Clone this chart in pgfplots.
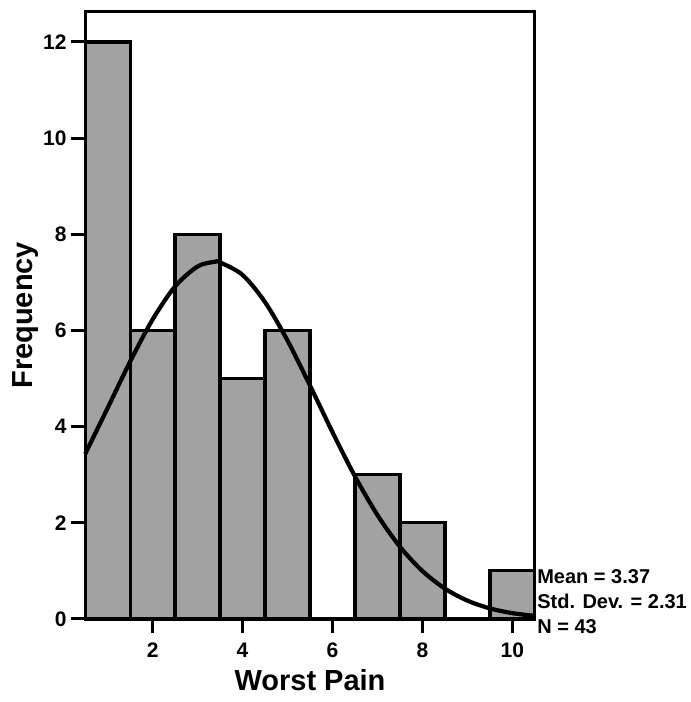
\documentclass[border=0pt]{standalone}
\usepackage{pgfplots}
\pgfplotsset{compat=1.18}
\usepackage{fontspec}
\setmainfont{Liberation Sans}
\definecolor{bargray}{RGB}{162,162,162}
\begin{document}
\begin{tikzpicture}
\begin{axis}[
  scale only axis,
  width=448bp, height=605bp,
  xmin=0.5, xmax=10.5,
  ymin=0, ymax=12.63,
  xtick={2,4,6,8,10},
  ytick={0,2,4,6,8,10,12},
  axis line style={line width=3.2bp},
  every tick/.style={black, line width=3bp},
  tick align=outside,
  major tick length=14bp,
  xtick pos=bottom, ytick pos=left,
  /pgf/number format/assume math mode=true,
  tick label style={font=\fontsize{21}{24}\selectfont\bfseries},
  xticklabel style={yshift=-6bp},
  yticklabel style={xshift=-1bp},
  xlabel={Worst Pain},
  ylabel={Frequency},
  xlabel style={font=\fontsize{29}{34}\selectfont\bfseries, yshift=-5bp},
  ylabel style={font=\fontsize{29}{34}\selectfont\bfseries, yshift=-2bp},
  clip=false,
]
\addplot[ybar interval, fill=bargray, draw=black, line width=3.2bp] coordinates {
  (0.5,12) (1.5,6) (2.5,8) (3.5,5) (4.5,6) (5.5,0) (6.5,3) (7.5,2) (8.5,0) (9.5,1) (10.5,1)
};
\addplot[smooth, black, line width=4.2bp] coordinates {
  (0.5,3.43) (1,4.387) (1.5,5.351) (2,6.228) (2.5,6.917) (3,7.331) (3.37,7.426) (3.5,7.414)
  (4,7.155) (4.5,6.589) (5,5.790) (5.5,4.854) (6,3.884) (6.5,2.965) (7,2.160) (7.5,1.502)
  (8,0.996) (8.5,0.631) (9,0.381) (9.5,0.2196) (10,0.1208) (10.5,0.0634)
};
\node[anchor=west, inner sep=0pt, font=\fontsize{20}{24}\selectfont\bfseries] at (axis cs:10.55,0.88) {Mean = 3.37};
\node[anchor=west, inner sep=0pt, font=\fontsize{20}{24}\selectfont\bfseries] at (axis cs:10.55,0.36) {Std. Dev. = 2.31};
\node[anchor=west, inner sep=0pt, font=\fontsize{20}{24}\selectfont\bfseries] at (axis cs:10.55,-0.15) {N = 43};
\end{axis}
\path ([xshift=-9bp,yshift=-8bp]current bounding box.south west) rectangle ([xshift=4bp,yshift=10bp]current bounding box.north east);
\end{tikzpicture}
\end{document}
